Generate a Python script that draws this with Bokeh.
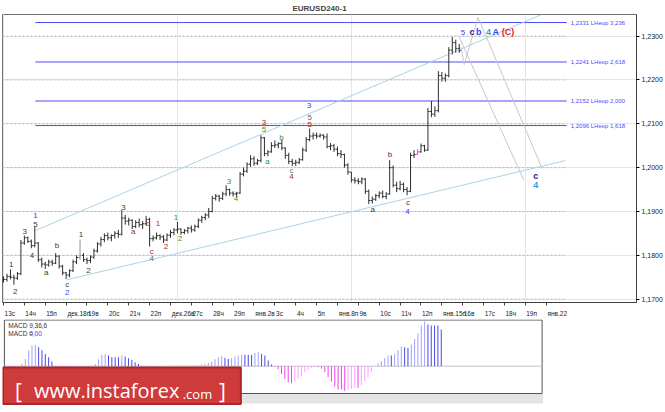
import numpy as np
from bokeh.plotting import figure
from bokeh.layouts import column
from bokeh.models import Range1d, LinearAxis, FixedTicker, Label, ColumnDataSource
from bokeh.core.properties import value
from bokeh.embed import file_html
from bokeh.resources import INLINE

# ---------------- data (EURUSD H4, one row per trading day) ----------------
first_open = 1.1742
highs = [
    1.1752, 1.1758, 1.1768, 1.1756, 1.1762, 1.1835,   # Dec 13
    1.1845, 1.1843, 1.1836, 1.1865, 1.1830, 1.1795,   # Dec 14
    1.1785, 1.1790, 1.1790, 1.1805, 1.1800, 1.1778,   # Dec 15
    1.1762, 1.1768, 1.1790, 1.1800, 1.1836, 1.1805,   # Dec 18
    1.1795, 1.1800, 1.1815, 1.1830, 1.1842, 1.1850,   # Dec 19
    1.1852, 1.1848, 1.1855, 1.1858, 1.1903, 1.1892,   # Dec 20
    1.1886, 1.1882, 1.1880, 1.1884, 1.1878, 1.1890,   # Dec 21
    1.1886, 1.1845, 1.1852, 1.1848, 1.1846, 1.1850,   # Dec 22
    1.1858, 1.1862, 1.1876, 1.1862, 1.1860, 1.1865,   # Dec 26
    1.1868, 1.1870, 1.1884, 1.1890, 1.1896, 1.1908,   # Dec 27
    1.1936, 1.1940, 1.1938, 1.1945, 1.1960, 1.1952,   # Dec 28
    1.1946, 1.1945, 1.1990, 1.2000, 1.2012, 1.2028,   # Dec 29
    1.2026, 1.2020, 1.2074, 1.2070, 1.2040, 1.2058,   # Jan 2
    1.2062, 1.2058, 1.2064, 1.2046, 1.2034, 1.2020,   # Jan 3
    1.2018, 1.2022, 1.2046, 1.2070, 1.2089, 1.2080,   # Jan 4
    1.2080, 1.2078, 1.2076, 1.2078, 1.2056, 1.2054,   # Jan 5
    1.2048, 1.2040, 1.2032, 1.2010, 1.1982, 1.1978,   # Jan 8
    1.1976, 1.1978, 1.1976, 1.1950, 1.1934, 1.1940,   # Jan 9
    1.1946, 1.1948, 1.1944, 1.2017, 1.2005, 1.1968,   # Jan 10
    1.1970, 1.1966, 1.1956, 1.2034, 1.2040, 1.2042,   # Jan 11
    1.2055, 1.2052, 1.2136, 1.2152, 1.2140, 1.2220,   # Jan 12
    1.2218, 1.2215, 1.2275, 1.2298, 1.2292, 1.2282,   # Jan 15
]
lows = [
    1.1738, 1.1740, 1.1745, 1.1733, 1.1744, 1.1755,
    1.1824, 1.1828, 1.1816, 1.1818, 1.1785, 1.1772,
    1.1769, 1.1774, 1.1776, 1.1780, 1.1770, 1.1755,
    1.1746, 1.1750, 1.1762, 1.1780, 1.1790, 1.1785,
    1.1780, 1.1782, 1.1792, 1.1806, 1.1820, 1.1830,
    1.1834, 1.1832, 1.1838, 1.1840, 1.1845, 1.1870,
    1.1868, 1.1860, 1.1862, 1.1864, 1.1860, 1.1868,
    1.1820, 1.1832, 1.1836, 1.1835, 1.1828, 1.1832,
    1.1840, 1.1846, 1.1850, 1.1847, 1.1848, 1.1850,
    1.1852, 1.1854, 1.1862, 1.1874, 1.1880, 1.1885,
    1.1898, 1.1925, 1.1922, 1.1926, 1.1935, 1.1936,
    1.1934, 1.1932, 1.1940, 1.1980, 1.1988, 1.2002,
    1.2004, 1.2006, 1.2012, 1.2026, 1.2026, 1.2034,
    1.2045, 1.2044, 1.2040, 1.2020, 1.2008, 1.2004,
    1.2004, 1.2008, 1.2016, 1.2036, 1.2060, 1.2064,
    1.2066, 1.2068, 1.2064, 1.2044, 1.2040, 1.2036,
    1.2026, 1.2022, 1.2000, 1.1984, 1.1966, 1.1964,
    1.1962, 1.1962, 1.1940, 1.1917, 1.1918, 1.1924,
    1.1930, 1.1930, 1.1928, 1.1938, 1.1955, 1.1944,
    1.1948, 1.1944, 1.1937, 1.1944, 1.2022, 1.2030,
    1.2034, 1.2036, 1.2038, 1.2115, 1.2116, 1.2126,
    1.2196, 1.2196, 1.2206, 1.2258, 1.2262, 1.2262,
]
closes = [
    1.1745, 1.1752, 1.1750, 1.1748, 1.1758, 1.1828,
    1.1840, 1.1832, 1.1822, 1.1828, 1.1790, 1.1780,
    1.1778, 1.1785, 1.1782, 1.1798, 1.1775, 1.1760,
    1.1755, 1.1765, 1.1785, 1.1795, 1.1800, 1.1790,
    1.1788, 1.1796, 1.1810, 1.1826, 1.1836, 1.1845,
    1.1840, 1.1845, 1.1850, 1.1848, 1.1885, 1.1878,
    1.1880, 1.1866, 1.1875, 1.1870, 1.1872, 1.1882,
    1.1838, 1.1840, 1.1845, 1.1842, 1.1835, 1.1846,
    1.1852, 1.1858, 1.1860, 1.1852, 1.1856, 1.1862,
    1.1858, 1.1866, 1.1880, 1.1886, 1.1892, 1.1900,
    1.1930, 1.1935, 1.1930, 1.1940, 1.1950, 1.1942,
    1.1940, 1.1942, 1.1985, 1.1992, 1.2008, 1.2020,
    1.2010, 1.2016, 1.2068, 1.2032, 1.2036, 1.2050,
    1.2052, 1.2055, 1.2045, 1.2028, 1.2014, 1.2010,
    1.2012, 1.2018, 1.2040, 1.2064, 1.2072, 1.2074,
    1.2072, 1.2074, 1.2070, 1.2048, 1.2050, 1.2042,
    1.2032, 1.2030, 1.2006, 1.1990, 1.1972, 1.1970,
    1.1968, 1.1974, 1.1946, 1.1925, 1.1928, 1.1936,
    1.1942, 1.1934, 1.1940, 1.2000, 1.1960, 1.1952,
    1.1962, 1.1950, 1.1946, 1.2028, 1.2030, 1.2036,
    1.2050, 1.2040, 1.2128, 1.2122, 1.2130, 1.2210,
    1.2204, 1.2210, 1.2268, 1.2285, 1.2272, 1.2267,
]
pink_bars = [119]
gray_bars = [22]

# MACD 9,36,6 histogram, in pips
macd_pips = [
    -0.5, -0.5, -0.5, -0.5, -0.5, 2.3, 7.3, 16, 20.7, 21.3, 19, 16,
    12, 9, 4.7, -0.5, -0.7, -0.7, -0.7, -0.7, -0.5, -0.5, -0.5, -0.5,
    -0.3, -0.3, 0.5, 2.3, 6.7, 11.3, 12.3, 10.7, 9, 9, 9, 10.7,
    9.7, 8, 6.3, 4, 2.3, 0.4, 0.3, 0.2, -0.2, -0.3, -0.4, -0.3,
    -0.2, 0.2, 0.3, 0.4, 0.5, 0.4, 0.3, 0.5, 0.6, 0.8, 1.0, 1.7,
    2.3, 3.3, 4.7, 7, 9, 10, 8.3, 7.3, 8, 9.7, 10.7, 11.3,
    11.3, 11.3, 11.3, 13.3, 14, 12.3, 10.7, 5.7, 1.7, -0.7, -3, -7.7,
    -12.7, -16, -17, -15.3, -12.7, -9.3, -6, -3.7, -1.7, -0.5, -1, -2.5,
    -6, -11, -15.3, -20.3, -23.3, -23.3, -25, -23.3, -22.7, -21.7, -21.7, -19.3,
    -15, -11, -6, -0.5, 3, 5, 8, 10.7, 10.7, 12.3, 16.3, 19.7,
    19, 18.3, 21.7, 27.3, 33, 40.7, 44.7, 41.7, 40.7, 40.7, 40.7, 36.7,
]

day_labels = ["13с", "14ч", "15п", "дек.18п", "19в", "20с", "21ч", "22п",
              "дек.26в", "27с", "28ч", "29п", "янв.2в", "3с", "4ч", "5п",
              "янв.8п", "9в", "10с", "11ч", "12п", "янв.15п", "16в", "17с",
              "18ч", "19п", "янв.22"]
price_ticks = [1.17, 1.18, 1.19, 1.20, 1.21, 1.22, 1.23]

fib_levels = [1.2331, 1.2241, 1.2152, 1.2096]
fib_texts = ["1,2331 LHeop 3,236", "1,2241 LHeop 2,618",
             "1,2152 LHeop 2,000", "1,2096 LHeop 1,618"]

# channel lines (bar index, price)
chan_x0 = [9.2, 18.3]
chan_y0 = [1.18565, 1.17444]
chan_x1 = [154.7, 161.5]
chan_y1 = [1.23493, 1.20160]

# projected paths
proj1_x = [131.5, 132.4, 136.4, 154.7]
proj1_y = [1.22753, 1.22350, 1.23426, 1.20004]
proj2_x = [131.0, 149.6]
proj2_y = [1.22977, 1.19704]

# wave marks
wave_x = [2.2, 3.4, 6.1, 8.2, 9.2, 9.2, 12.3, 15.4, 18.3, 18.3, 22.3, 24.4,
          34.5, 37.3, 41.5, 42.6, 42.6, 44.4, 46.7, 49.6, 50.7, 64.8, 66.8,
          74.9, 74.9, 75.9, 79.9, 82.8, 82.8, 87.8, 88.0, 88.0, 106.1, 111.1,
          116.3, 116.1, 132.1]
wave_y = [1.1780, 1.1717, 1.1854, 1.1800, 1.1870, 1.1890, 1.1760, 1.1822,
          1.1733, 1.1715, 1.1847, 1.1766, 1.1910, 1.1854, 1.1872, 1.1809,
          1.1792, 1.1872, 1.1820, 1.1887, 1.1838, 1.1968, 1.1930, 1.2104,
          1.2088, 1.2015, 1.2068, 1.1993, 1.1979, 1.2141, 1.2115, 1.2099,
          1.1904, 1.2029, 1.1921, 1.1899, 1.2309]
wave_txt = ["1", "2", "3", "4", "5", "1", "a", "b", "c", "2", "1", "2",
            "3", "a", "b", "c", "4", "1", "2", "1", "2", "3", "4",
            "3", "5", "a", "b", "c", "4", "3", "5", "5", "a", "b",
            "c", "4", "5"]
K, R, G, B = "#3a3a3a", "#a03030", "#2e9a2e", "#3c3cff"
wave_col = [K, K, K, K, K, B, K, K, K, B, K, K,
            K, R, R, R, "#5a6a80", R, R, G, G, G, G,
            R, G, G, G, G, R, B, "#7a6650", R, K, K,
            K, B, B]

big_x = [134.7, 136.6, 139.4, 141.5, 145.0, 153.0, 153.0]
big_y = [1.2309, 1.2309, 1.2309, 1.2309, 1.2309, 1.1982, 1.1961]
big_txt = ["c", "b", "4", "A", "(C)", "c", "4"]
big_col = ["#1a1a8c", B, "#3399ee", B, "#dd2222", "#1a1a8c", "#3399ee"]

# ---------------- geometry helpers (reference pixel -> data) ----------------
W, H1, H2 = 665, 319, 93
BAR_PX = 3.49


def bx(X):
    return (X - 3.0) / BAR_PX


def py(Y):
    return 1.2300 - (Y - 36.0) / 4460.0


def my(Y):
    return (365.7 - Y) * 1e-4


FONT = value("Liberation Sans")

p = figure(width=W, height=H1, title="EURUSD240-1",
           x_range=Range1d(bx(2), bx(638)), y_range=Range1d(py(307), py(14)),
           output_backend="svg", toolbar_location=None, tools="",
           x_axis_location=None, y_axis_location=None,
           min_border_left=2, min_border_right=27, min_border_top=0,
           min_border_bottom=0)
p.title.align = "center"
p.title.text_font = "Liberation Sans"
p.title.text_font_size = "8px"
p.title.text_font_style = "bold"
p.title.standoff = 3
p.outline_line_color = "#707070"
p.background_fill_color = "white"
p.border_fill_color = "white"

# right price axis
yax = LinearAxis(ticker=FixedTicker(ticks=price_ticks),
                 major_label_overrides={t: ("%.4f" % t).replace(".", ",") for t in price_ticks})
yax.major_label_text_font = "Liberation Sans"
yax.major_label_text_font_size = "7px"
yax.major_label_text_color = "#222222"
yax.major_tick_in = 0
yax.major_tick_out = 3
yax.major_label_standoff = 2
yax.minor_tick_line_color = None
yax.axis_line_color = "#404040"
p.add_layout(yax, "right")

# date axis: label centres sit right of the day tick
day_start = [6 * k for k in range(len(day_labels))]
lab_pos = [d + (1.5 + 3.2 * len(s) / 2.0) / BAR_PX for d, s in zip(day_start, day_labels)]
xax = LinearAxis(ticker=FixedTicker(ticks=lab_pos, minor_ticks=day_start),
                 major_label_overrides={pos: s for pos, s in zip(lab_pos, day_labels)})
xax.major_tick_line_color = None
xax.minor_tick_in = 0
xax.minor_tick_out = 3
xax.minor_tick_line_color = "#404040"
xax.major_label_standoff = 1
xax.major_label_text_font = "Liberation Sans"
xax.major_label_text_font_size = "6.5px"
xax.major_label_text_color = "#222222"
xax.axis_line_color = "#404040"
p.add_layout(xax, "below")

# dotted horizontal grid (stops where the chart area ends)
p.segment(x0=bx(2), x1=bx(568), y0=price_ticks, y1=price_ticks,
          line_color="#b8b8b8", line_dash="2 2", line_width=1)

# fibonacci levels
p.segment(x0=bx(35), x1=bx(568), y0=fib_levels, y1=fib_levels,
          line_color="#4a4aff", line_width=1)
p.text(x=bx(572), y=fib_levels, text=fib_texts, text_font=FONT,
       text_font_size="6px", text_color="#4a4aff", text_baseline="middle")

# channel
p.segment(x0=chan_x0, y0=chan_y0, x1=chan_x1, y1=chan_y1,
          line_color="#a9d3e6", line_width=1)

# projections
p.line(proj1_x, proj1_y, line_color="#cfc2cc", line_width=1)
p.line(proj2_x, proj2_y, line_color="#cfc2cc", line_width=1)

# OHLC bars
idx = np.arange(len(closes))
opens = np.array([first_open] + closes[:-1])
hi = np.maximum(np.array(highs), opens)
lo = np.minimum(np.array(lows), opens)
colors = ["#2e2e2e"] * len(closes)
for i in pink_bars:
    colors[i] = "#ff33ff"
for i in gray_bars:
    colors[i] = "#909090"
bars = ColumnDataSource(dict(x=idx, xl=idx - 0.45, xr=idx + 0.45, hi=hi, lo=lo,
                             o=opens, c=closes, col=colors))
p.segment(x0="x", y0="lo", x1="x", y1="hi", source=bars, line_color="col", line_width=1)
p.segment(x0="xl", y0="o", x1="x", y1="o", source=bars, line_color="col", line_width=1)
p.segment(x0="x", y0="c", x1="xr", y1="c", source=bars, line_color="col", line_width=1)

# wave labels
p.text(x=wave_x, y=wave_y, text=wave_txt, text_color=wave_col, text_font=FONT,
       text_font_size="8px", text_align="center", text_baseline="middle")
p.text(x=big_x, y=big_y, text=big_txt, text_color=big_col, text_font=FONT,
       text_font_size="9px", text_font_style="bold", text_align="center",
       text_baseline="middle")

# last price marker
p.add_layout(Label(x=bx(640), y=closes[-1], text=("%.4f" % closes[-1]).replace(".", ","),
                   text_font="Liberation Sans", text_font_size="7px",
                   text_baseline="middle", text_color="#000000",
                   background_fill_color="#ffff00"))

# ---------------- MACD panel ----------------
scale1 = (W - 27 - 2) / (bx(638) - bx(2))
left2 = bx(2) - 2 / scale1
q = figure(width=W, height=H2,
           x_range=Range1d(left2, left2 + W / scale1), y_range=Range1d(my(412), my(319)),
           output_backend="svg", toolbar_location=None, tools="",
           x_axis_location=None, y_axis_location=None,
           min_border_left=0, min_border_right=0, min_border_top=0, min_border_bottom=0)
q.outline_line_color = None
q.grid.visible = False

q.quad(left=bx(2), right=bx(567), top=my(393), bottom=my(403),
       fill_color="#e4e4e4", line_color=None)
q.quad(left=bx(2), right=bx(566), top=my(319.5), bottom=my(393),
       fill_color=None, line_color="#555555", line_width=1)
q.segment(x0=bx(2), x1=bx(566), y0=0, y1=0, line_color="#c4c4c4")

macd = np.array(macd_pips) * 1e-4
prev = np.concatenate([[0.0], macd[:-1]])
mcol = []
for v, pv in zip(macd, prev):
    if v >= 0:
        mcol.append("#a0a0ff" if v > pv else "#4848f0")
    else:
        mcol.append("#ffa0ff" if v > pv else "#f040f0")
q.segment(x0=idx, y0=0, x1=idx, y1=macd, line_color=mcol, line_width=1)

q.text(x=[bx(6), bx(6), bx(28)], y=[my(325), my(333), my(333)],
       text=["MACD 9,36,6", "MACD =", "0,00"],
       text_color=["#333333", "#333333", "#3c3cff"], text_font=FONT,
       text_font_size="6.5px", text_baseline="middle")

# banner
q.quad(left=bx(0.5), right=bx(250), top=my(367), bottom=my(403.5),
       fill_color="#cf3a3a", line_color="#a82828", line_width=2)
OPEN = value("Open Sans")
q.text(x=[bx(13), bx(227)], y=[my(390), my(390)], text=["[", "]"], text_font=OPEN,
       text_font_size="21px", text_color="#ffffff", text_baseline="middle")
q.text(x=[bx(33)], y=[my(390)], text=["www.instaforex"], text_font=OPEN,
       text_font_size="20px", text_color="#ffffff", text_baseline="middle")
q.text(x=[bx(189)], y=[my(393)], text=[".com"], text_font=OPEN,
       text_font_size="13px", text_color="#ffffff", text_baseline="middle")

layout = column(p, q, spacing=0)
open("out.html", "w").write(file_html(layout, INLINE))
